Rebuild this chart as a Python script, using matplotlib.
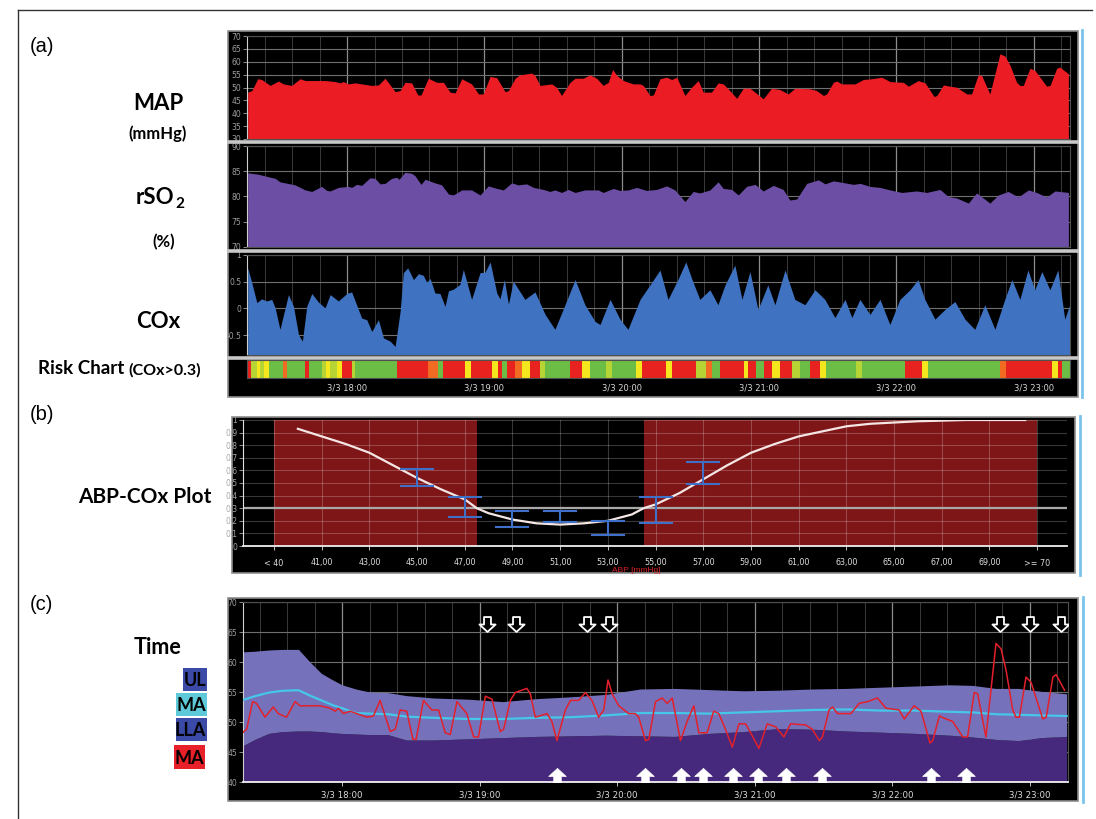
import numpy as np
import matplotlib
matplotlib.use("Agg")
import matplotlib.pyplot as plt
from matplotlib.patches import Rectangle
from matplotlib.lines import Line2D
from matplotlib.path import Path

# ---------------- data (time in minutes after 17:00 on 3/3) ----------------
map_t = [16.6, 18.4, 21.0, 22.7, 26.4, 30.0, 32.2, 35.8, 39.5, 41.7, 46.0, 50.4, 54.8, 57.0, 58.4,
         60.6, 63.5, 66.4, 70.8, 73.7, 76.6, 81.0, 83.2, 85.3, 88.2, 90.9, 92.3, 95.5, 99.2, 102.1,
         105.0, 107.2, 110.1, 114.4, 117.4, 119.5, 122.5, 125.4, 129.0, 130.5, 133.4,
         135.5, 140.6, 142.1, 144.3, 149.4, 151.5, 153.7, 157.4, 159.6, 163.2, 166.1, 169.0, 171.9,
         174.1, 176.0, 177.8, 180.7, 185.0, 187.9, 189.4, 192.3, 193.8, 196.7, 199.6, 201.8, 204.0,
         207.6, 210.5, 213.4, 215.6, 219.2, 222.1, 224.3, 227.2, 230.2, 233.1, 236.0, 238.2, 241.8,
         245.4, 249.1, 252.7, 255.6,
         262.2, 265.1, 268.1, 269.5, 272.4, 273.9, 276.1, 281.9, 285.5, 289.2, 293.5, 297.2, 303.0,
         305.2, 309.5, 312.5, 316.4, 317.6, 320.5, 323.4, 326.3, 330.7, 332.8, 335.7, 337.2, 340.8,
         345.2, 347.4, 349.6, 352.5, 353.9, 355.4, 358.3, 360.5, 365.6, 367.1, 370.0, 371.4, 375.1]
map_v = [48.2, 48.8, 53.4, 53.1, 50.8, 52.5, 51.4, 50.8, 53.4, 52.7, 52.7, 52.7, 52.3, 51.8, 52.3,
         51.4, 51.8, 51.4, 50.8, 51.0, 53.6, 48.4, 48.8, 52.0, 51.8, 47.1, 47.1, 53.6, 52.0, 52.0,
         48.2, 47.9, 53.4, 51.4, 47.5, 47.5, 54.3, 53.8, 48.4, 48.8, 53.6,
         54.9, 55.6, 54.7, 50.8, 51.4, 50.1, 46.9, 52.0, 53.6, 53.6, 54.9, 53.6, 50.8,
         52.0, 57.0, 54.7, 52.7, 51.4, 51.4, 50.8, 46.9, 47.1, 53.4, 54.0, 53.1, 54.0,
         46.9, 50.1, 52.7, 48.2, 48.2, 51.8, 51.4, 48.8, 45.8, 49.7, 49.7, 48.2, 45.6,
         49.7, 49.2, 47.5, 49.7,
         49.5, 48.8, 46.9, 47.5, 52.0, 52.5, 51.4, 51.4, 53.1, 53.4, 54.0, 52.3, 52.0,
         50.5, 52.7, 51.8, 46.5, 46.9, 51.0, 50.5, 50.1, 47.5, 47.5, 54.9, 54.7, 47.5,
         63.1, 62.2, 58.6, 52.0, 50.8, 50.8, 57.5, 56.6, 50.5, 50.8, 57.5, 57.9, 55.3]

rso2_t = [16.6, 21.3, 25.7, 28.6, 30.7, 37.3, 41.7, 44.6, 48.9, 51.1, 52.6, 56.2, 60.6, 62.0, 64.2,
          66.4, 70.0, 72.2, 74.4, 76.6, 79.5, 81.7, 82.7, 85.3, 88.2, 89.7, 92.3, 94.1, 98.4, 101.3,
          104.3, 106.4, 110.1, 114.4, 118.1, 121.7, 125.4, 128.3, 131.9,
          134.8, 138.4, 141.4, 145.7, 148.6, 150.8, 153.7, 156.6, 159.6, 163.9, 169.7, 171.9, 176.3,
          179.2, 182.8, 186.5, 190.8, 195.2, 199.6, 203.2, 207.6, 211.2, 214.1, 218.5, 222.1, 224.3,
          228.0, 230.9, 234.5, 238.2, 241.8, 246.2, 250.5, 253.4, 256.4,
          260.8, 265.9, 268.8, 272.4, 277.5, 281.2, 284.1, 288.4, 292.8, 297.2, 302.3, 308.8, 313.2,
          319.0, 322.6, 326.3, 331.4, 335.0, 340.8, 344.5, 348.8, 353.2, 357.6, 361.2, 365.6, 369.2,
          375.1]
rso2_v = [84.7, 84.4, 83.9, 83.6, 82.9, 82.3, 81.3, 81.0, 82.0, 81.2, 81.1, 81.8, 82.0, 81.8, 82.4,
          82.2, 83.7, 83.6, 82.5, 82.6, 83.6, 83.8, 83.4, 84.8, 84.6, 84.1, 82.4, 83.4, 82.7, 82.3,
          80.5, 80.3, 81.3, 81.3, 80.3, 82.1, 81.6, 81.3, 82.7,
          82.3, 82.5, 81.8, 81.4, 81.0, 81.3, 80.8, 81.4, 80.8, 81.3, 81.3, 80.8, 81.6,
          81.2, 81.3, 81.8, 81.2, 81.4, 82.1, 81.3, 79.0, 81.0, 80.7, 81.3, 82.9, 81.6,
          81.4, 80.3, 82.0, 82.4, 81.1, 82.2, 81.4, 79.3, 79.5,
          82.6, 83.3, 82.5, 83.1, 82.7, 82.4, 82.6, 82.0, 81.8, 81.3, 80.8, 81.1, 80.8,
          81.4, 80.0, 79.7, 78.7, 80.7, 78.7, 80.3, 81.0, 79.9, 81.3, 80.8, 79.9, 81.1,
          80.8]

cox_t = [16.6, 18.4, 20.6, 22.7, 24.9, 27.1, 28.6, 30.7, 34.4, 36.6, 38.8, 40.5, 42.4, 44.6, 47.5,
         50.4, 52.6, 56.2, 59.9, 62.0, 66.4, 68.6, 70.8, 73.7, 75.9, 78.8, 81.0, 83.2, 84.6, 86.5,
         89.0, 91.2, 93.3, 94.8, 96.3, 98.4, 100.6, 102.8, 104.3, 106.4, 109.3, 110.8, 114.4, 118.1,
         120.3, 122.5, 125.4, 126.8, 128.7, 130.5, 132.6,
         137.7, 142.1, 146.5, 150.8, 155.2, 159.6, 163.9, 168.3, 170.5, 174.9, 179.2, 182.7, 188.0,
         192.3, 196.7, 200.2, 204.5, 208.0, 210.7, 214.1, 218.5, 222.0, 225.1, 229.4, 232.5, 236.0,
         239.5, 243.8, 246.9, 251.3, 255.6, 260.0, 264.4, 268.7, 273.1, 277.5, 280.5, 284.0, 288.4,
         292.8, 297.1, 301.5, 305.9, 309.4, 312.4, 316.8, 321.1, 325.5, 329.9, 334.2, 338.6, 343.0,
         347.3, 350.4, 353.9, 357.4, 360.4, 363.5, 367.0, 370.5, 373.5, 375.7]
cox_v = [0.76, 0.48, 0.11, 0.18, 0.14, 0.17, 0.01, -0.39, 0.26, 0.04, -0.49, -0.61, 0.04, 0.28, 0.12,
         0.01, 0.26, 0.14, 0.28, 0.31, -0.18, -0.21, -0.43, -0.21, -0.55, -0.61, -0.71, -0.05, 0.67, 0.76,
         0.54, 0.65, 0.62, 0.49, 0.56, 0.29, 0.28, 0.04, 0.33, 0.36, 0.45, 0.73, 0.17, 0.67,
         0.68, 0.87, 0.29, 0.18, 0.54, 0.08, 0.51,
         0.17, 0.31, -0.11, -0.39, 0.07, 0.54, 0.07, -0.24, -0.30, 0.17, -0.20, -0.39, 0.17,
         0.44, 0.72, 0.17, 0.54, 0.87, 0.54, 0.17, 0.35, 0.07, 0.44, 0.81, 0.17, 0.69,
         -0.02, 0.44, 0.07, 0.72, 0.17, 0.07, 0.35, 0.17, -0.17, 0.17, -0.17, 0.17, -0.11,
         0.17, -0.30, 0.17, 0.35, 0.54, 0.17, -0.20, -0.02, 0.13, -0.20, -0.39, 0.07, -0.39,
         0.17, 0.54, 0.17, 0.72, 0.35, 0.69, 0.35, 0.72, -0.20, 0.07]

# risk chart: segment start times (last value = end) and levels (0 green .. 4 red)
risk_t = [16.3, 18.1, 20.7, 22.0, 23.8, 25.9, 32.1, 33.8, 41.7, 43.4, 49.1, 50.8, 52.6, 55.6, 57.8,
          62.2, 63.5, 81.8, 95.4, 99.7, 101.9, 111.5, 114.2, 123.3, 125.9, 127.7, 129.9, 133.4, 136.4,
          139.9, 144.3, 146.5, 157.4, 162.6, 166.1, 173.1, 175.7, 186.2, 188.8, 199.3, 201.9, 212.4,
          216.8, 219.4, 222.9, 233.4, 235.1, 238.6, 242.1, 245.6, 249.1, 254.3, 257.8, 262.2, 266.6,
          269.2, 282.3, 284.9, 303.7, 311.1, 313.7, 345.2, 347.8, 367.9, 370.5, 372.3, 375.8]
risk_lvl = [4, 1, 2, 1, 2, 0, 3, 0, 4, 0, 1, 2, 1, 2, 4,
            1, 0, 4, 3, 0, 4, 2, 4, 2, 4, 0, 4, 3, 2,
            4, 1, 0, 4, 2, 0, 1, 0, 2, 4, 2, 4, 1,
            3, 0, 4, 2, 4, 0, 4, 2, 4, 1, 0, 4, 2,
            0, 1, 0, 4, 2, 0, 3, 4, 2, 4, 0]
risk_palette = ['#6cbd45', '#b6d433', '#f4e71d', '#f26b22', '#e8231f']

hour_ticks = [60, 120, 180, 240, 300, 360]
hour_labels = ['3/3 18:00', '3/3 19:00', '3/3 20:00', '3/3 21:00', '3/3 22:00', '3/3 23:00']

# ABP-COx plot
abp_tick_pos = [39, 41, 43, 45, 47, 49, 51, 53, 55, 57, 59, 61, 63, 65, 67, 69, 71]
abp_tick_lab = ['< 40', '41,00', '43,00', '45,00', '47,00', '49,00', '51,00', '53,00', '55,00',
                '57,00', '59,00', '61,00', '63,00', '65,00', '67,00', '69,00', '>= 70']
abp_curve_x = [40, 41, 42, 43, 44, 45, 46, 47, 47.5, 48, 49, 50, 51, 52, 53, 54, 54.5, 55, 56, 57,
               58, 59, 60, 61, 62, 63, 64, 65, 66, 67, 68, 69, 70.5]
abp_curve_y = [0.93, 0.87, 0.81, 0.74, 0.64, 0.54, 0.45, 0.37, 0.30, 0.26, 0.21, 0.18, 0.17, 0.18,
               0.20, 0.25, 0.30, 0.33, 0.42, 0.53, 0.64, 0.74, 0.81, 0.87, 0.91, 0.95, 0.97, 0.98,
               0.99, 0.995, 1.0, 1.0, 1.0]
eb_x = [45, 47, 49, 51, 53, 55, 57]
eb_lo = [0.48, 0.23, 0.15, 0.19, 0.09, 0.18, 0.49]
eb_hi = [0.61, 0.39, 0.28, 0.28, 0.20, 0.39, 0.67]
risk_zone_start = [39, 54.5]
risk_zone_end = [47.5, 71]
cox_threshold = 0.3

# Autoregulation bands
band_t = [17, 22, 28, 34, 41, 46, 51, 56, 60, 66, 72, 80, 88, 100, 115, 130, 145, 160, 175, 190,
          205, 220, 235, 250, 265, 280, 295, 310, 325, 335, 345, 355, 365, 376]
band_ul = [61.7, 61.8, 62.0, 62.1, 62.1, 60.0, 58.1, 57.0, 56.2, 55.5, 55.0, 54.9, 54.4, 54.0, 53.8,
           53.4, 53.9, 54.2, 54.6, 55.5, 55.6, 55.4, 55.2, 55.3, 55.5, 55.6, 55.8, 56.0, 56.2, 56.1,
           55.6, 55.6, 55.1, 54.7]
band_lla = [46.1, 47.1, 48.1, 48.4, 48.5, 48.5, 48.4, 48.2, 48.1, 48.0, 47.9, 47.9, 47.0, 47.0, 47.2,
            47.4, 47.6, 47.7, 47.8, 47.7, 47.6, 48.1, 48.4, 48.9, 48.8, 48.5, 48.3, 48.1, 47.8, 47.5,
            47.1, 46.9, 47.4, 47.6]
band_ma = [53.7, 54.3, 54.9, 55.2, 55.3, 54.4, 53.6, 52.8, 52.3, 51.5, 51.4, 51.3, 50.9, 50.7, 50.5,
           50.5, 50.7, 50.8, 51.1, 51.5, 51.5, 51.4, 51.6, 51.8, 52.0, 52.1, 51.9, 51.9, 51.7, 51.6,
           51.3, 51.2, 51.1, 51.0]
arrow_down_t = [123.2, 135.9, 166.8, 176.4, 346.9, 360.0, 373.5]
arrow_up_t = [153.7, 192.1, 207.8, 217.4, 230.5, 241.4, 253.6, 269.3, 316.8, 332.1]

# ---------------- figure ----------------
W, H = 1096, 819
fig = plt.figure(figsize=(W / 100, H / 100), dpi=100)
fig.patch.set_facecolor('white')
BOLD = 'Lato'
REG = 'Liberation Sans'


def R(x0, y0, x1, y1):
    return [x0 / W, 1 - y1 / H, (x1 - x0) / W, (y1 - y0) / H]


def box(x0, y0, x1, y1, fc='black', ec='#8c8c8c', lw=1.2, z=-2):
    fig.add_artist(Rectangle((x0 / W, 1 - y1 / H), (x1 - x0) / W, (y1 - y0) / H,
                             transform=fig.transFigure, fc=fc, ec=ec, lw=lw, zorder=z))


def fline(xs, ys, color, lw, z=3):
    fig.add_artist(Line2D([x / W for x in xs], [1 - y / H for y in ys],
                          transform=fig.transFigure, color=color, lw=lw, zorder=z))


def ftext(x, y, s, size, bold=True, ha='center', va='center', color='black', family=None):
    fig.text(x / W, 1 - y / H, s, fontsize=size, fontweight='bold' if bold else 'normal',
             ha=ha, va=va, color=color, family=family or (BOLD if bold else REG))


# outer frame
fline([18, 18], [10, 819], '#333333', 1.0)
fline([18, 1092], [10, 10], '#333333', 1.0)

T0, T1 = 16.3, 375.8
minor_ticks = np.arange(24, 375, 12)


def style_time_ax(ax, ylim, yticks, ylabels):
    ax.set_facecolor('black')
    ax.set_xticks(hour_ticks)
    ax.set_xticks(minor_ticks, minor=True)
    ax.set_xlim(T0, T1)
    ax.grid(which='major', axis='x', color='#8c8c8c', lw=0.9)
    ax.grid(which='minor', axis='x', color='#3a3a3a', lw=0.7)
    ax.set_yticks(yticks)
    ax.set_yticklabels(ylabels)
    ax.set_ylim(*ylim)
    ax.grid(which='major', axis='y', color='#707070', lw=0.8)
    ax.set_axisbelow(True)
    ax.tick_params(axis='x', which='both', length=0, labelbottom=False)
    ax.tick_params(axis='y', colors='#a0a0a0', labelsize=5.5, length=3, width=0.6, pad=1)
    for s in ax.spines.values():
        s.set_color('#505050')
    ax.spines['left'].set_color('#d0d0d0')


# ---------------- panel (a) ----------------
box(228, 31, 1078, 397)
fline([1082, 1082], [30, 397], '#7cc3ec', 2.0)

ax1 = fig.add_axes(R(247, 36, 1070, 139))
ax1.fill_between(map_t, map_v, 30, color='#ec1c24', lw=0, zorder=2)
style_time_ax(ax1, (30, 70), list(range(30, 71, 5)), [str(v) for v in range(30, 71, 5)])

ax2 = fig.add_axes(R(247, 146, 1070, 247))
ax2.fill_between(rso2_t, rso2_v, 70, color='#6c4fa4', lw=0, zorder=2)
style_time_ax(ax2, (70, 90), [70, 75, 80, 85, 90], ['70', '75', '80', '85', '90'])

ax3 = fig.add_axes(R(247, 255, 1070, 355))
ax3.fill_between(cox_t, cox_v, -0.87, color='#3f73c1', lw=0, zorder=2)
style_time_ax(ax3, (-0.87, 1.0), [-0.5, 0, 0.5, 1], ['-0.5', '0', '0.5', '1'])

for ys in (141.5, 250.5, 357.5):
    fline([229, 1077], [ys, ys], '#c8c8c8', 2.6)

axr = fig.add_axes(R(247, 360, 1070, 378))
axr.bar(risk_t[:-1], 1, width=np.diff(risk_t), align='edge',
        color=[risk_palette[l] for l in risk_lvl], lw=0)
axr.set_xticks(hour_ticks)
axr.set_xticklabels(hour_labels)
axr.set_xlim(T0, T1)
axr.set_ylim(0, 1)
axr.set_yticks([])
axr.tick_params(axis='x', length=0, colors='#d8d8d8', labelsize=6, pad=4)
for s in axr.spines.values():
    s.set_color('#505050')

ftext(30, 47, '(a)', 14.5, bold=False, ha='left')
ftext(158, 104, 'MAP', 16)
ftext(158, 134, '(mmHg)', 12)
ftext(174, 197, 'rSO', 16, ha='right')
ftext(175, 204, '2', 11, ha='left')
ftext(164, 242, '(%)', 12)
ftext(158, 322, 'COx', 16)
ftext(38, 369, 'Risk Chart', 13.5, ha='left')
ftext(128, 370, '(COx>0.3)', 11.5, ha='left')

# ---------------- panel (b) ----------------
box(232, 417, 1075, 573)
fline([1080, 1080], [416, 575], '#7cc3ec', 2.0)
axb = fig.add_axes(R(243, 420, 1067, 546))
axb.set_facecolor('black')
for a, b in zip(risk_zone_start, risk_zone_end):
    axb.axvspan(a, b, color='#7e1517', lw=0, zorder=0)
axb.set_xticks(abp_tick_pos)
axb.set_xticklabels(abp_tick_lab)
axb.set_yticks(np.round(np.arange(0, 1.01, 0.1), 1))
axb.set_yticklabels(['0', '0.1', '0.2', '0.3', '0.4', '0.5', '0.6', '0.7', '0.8', '0.9', '1'])
axb.set_xlim(37.7, 72.25)
axb.set_ylim(0, 1)
axb.grid(True, color='white', alpha=0.22, lw=0.8)
axb.set_axisbelow(True)
axb.axhline(cox_threshold, color='#a8a8a8', lw=1.6, zorder=2)
axb.plot(abp_curve_x, abp_curve_y, color='#f3e6e4', lw=1.6, zorder=3)
eb_mid = [(l + h) / 2 for l, h in zip(eb_lo, eb_hi)]
eb_err = [(h - l) / 2 for l, h in zip(eb_lo, eb_hi)]
axb.errorbar(eb_x, eb_mid, yerr=eb_err, fmt='none', ecolor='#3e70c8', elinewidth=1.5,
             capsize=12, capthick=1.5, zorder=4)
axb.tick_params(axis='x', colors='#dcdcdc', labelsize=5.8, length=3, width=0.6, pad=6)
axb.tick_params(axis='y', colors='#a8a8a8', labelsize=5.5, length=3, width=0.6, pad=1)
axb.spines['top'].set_visible(False)
axb.spines['right'].set_visible(False)
axb.spines['left'].set_color('#e0e0e0')
axb.spines['bottom'].set_color('#f0f0f0')
axb.spines['bottom'].set_linewidth(1.3)
ftext(636, 570, 'ABP [mmHg]', 6, bold=False, color='#d8232a')

ftext(30, 415, '(b)', 14.5, bold=False, ha='left')
ftext(145, 497, 'ABP-COx Plot', 15)

# ---------------- panel (c) ----------------
box(228, 598, 1078, 801)
fline([1083, 1083], [597, 802], '#7cc3ec', 2.0)
axc = fig.add_axes(R(243, 602, 1068, 782))
axc.set_facecolor('black')
axc.fill_between(band_t, 40, band_lla, color='#46297c', lw=0, zorder=2)
axc.fill_between(band_t, band_lla, band_ul, color='#7572bb', lw=0, zorder=2)
axc.plot(band_t, band_ma, color='#46c6e8', lw=1.6, zorder=3)
axc.plot(map_t, map_v, color='#e3202b', lw=1.1, zorder=4)

down_path = Path([(-0.28, 0.6), (0.28, 0.6), (0.28, 0.0), (0.65, 0.0), (0, -0.6), (-0.65, 0.0),
                  (-0.28, 0.0), (-0.28, 0.6)], closed=True)
up_path = Path([(-0.28, -0.6), (0.28, -0.6), (0.28, 0.0), (0.65, 0.0), (0, 0.6), (-0.65, 0.0),
                (-0.28, 0.0), (-0.28, -0.6)], closed=True)
axc.scatter(arrow_down_t, [66.4] * len(arrow_down_t), marker=down_path, s=135,
            facecolor='black', edgecolor='white', linewidths=1.3, zorder=6)
axc.scatter(arrow_up_t, [41.0] * len(arrow_up_t), marker=up_path, s=160,
            facecolor='white', edgecolor='white', linewidths=0.5, zorder=6)

axc.set_xticks(hour_ticks)
axc.set_xticklabels(hour_labels)
axc.set_xticks(minor_ticks, minor=True)
axc.set_yticks(list(range(40, 71, 5)))
axc.set_yticklabels([str(v) for v in range(40, 71, 5)])
axc.set_xlim(16.8, 376.6)
axc.set_ylim(40, 70)
axc.grid(which='major', axis='x', color='#8c8c8c', lw=0.9)
axc.grid(which='minor', axis='x', color='#3a3a3a', lw=0.7)
axc.grid(which='major', axis='y', color='#707070', lw=0.8)
axc.set_axisbelow(True)
axc.tick_params(axis='x', which='major', colors='#dcdcdc', labelsize=6.2, length=3, width=0.6, pad=3)
axc.tick_params(axis='x', which='minor', length=0)
axc.tick_params(axis='y', colors='#a0a0a0', labelsize=5.5, length=3, width=0.6, pad=1)
for s in axc.spines.values():
    s.set_color('#505050')
axc.spines['bottom'].set_color('#f0f0f0')
axc.spines['bottom'].set_linewidth(1.3)
axc.spines['left'].set_color('#d0d0d0')

ftext(30, 604, '(c)', 14.5, bold=False, ha='left')
ftext(157, 648, 'Time', 15.5)

legend_items = [('UL', 183, 668, 207, 691, '#3a4aa6'),
                ('MA', 176, 693, 207, 716, '#5ecad9'),
                ('LLA', 176, 718, 207, 741, '#3a4aa6'),
                ('MA', 174, 745, 205, 769, '#e8202a')]
for lab, x0, y0, x1, y1, c in legend_items:
    box(x0, y0, x1, y1, fc=c, ec='none', lw=0, z=1)
    ftext(x1 - 1, (y0 + y1) / 2 + 1, lab, 13, ha='right')

fig.savefig('out.png', dpi=100, facecolor='white')
